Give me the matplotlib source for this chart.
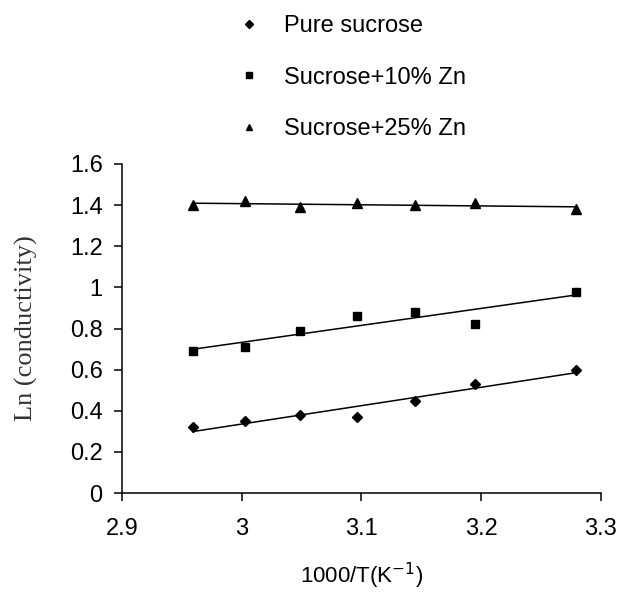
import matplotlib

matplotlib.use("Agg")
import matplotlib.pyplot as plt
import numpy as np
from matplotlib.ticker import FuncFormatter

# 1000/T values (K^-1)
inv_t = [2.959, 3.003, 3.049, 3.096, 3.145, 3.195, 3.279]

# Ln(conductivity) per sample
pure = [0.32, 0.35, 0.38, 0.37, 0.45, 0.53, 0.60]
zn10 = [0.69, 0.71, 0.79, 0.86, 0.88, 0.82, 0.98]
zn25 = [1.40, 1.42, 1.39, 1.41, 1.40, 1.41, 1.38]

labels = ["Pure sucrose", "Sucrose+10% Zn", "Sucrose+25% Zn"]
markers = ["D", "s", "^"]
sizes = [5.5, 6, 6.5]

plt.rcParams["font.family"] = ["Liberation Sans", "DejaVu Sans"]

fig = plt.figure(figsize=(6.2, 5.92), dpi=100)
ax = fig.add_axes([0.197, 0.167, 0.772, 0.556])

x = np.array(inv_t)
for ys, lab, mk, ms in zip([pure, zn10, zn25], labels, markers, sizes):
    ys = np.array(ys)
    ax.plot(x, ys, linestyle="none", marker=mk, ms=ms, color="black", label=lab)
    # linear trendline, like the spreadsheet one
    k, b = np.polyfit(x, ys, 1)
    xx = np.array([x.min(), x.max()])
    ax.plot(xx, k * xx + b, color="black", lw=1.1)

ax.set_xlim(2.9, 3.3)
ax.set_ylim(0, 1.6)
ax.set_xticks([2.9, 3.0, 3.1, 3.2, 3.3])
ax.set_yticks(np.arange(0, 1.61, 0.2))
ax.xaxis.set_major_formatter(FuncFormatter(lambda v, p: f"{v:g}"))
ax.yaxis.set_major_formatter(FuncFormatter(lambda v, p: f"{round(v, 1):g}"))

for s in ("top", "right"):
    ax.spines[s].set_visible(False)
for s in ("left", "bottom"):
    ax.spines[s].set_linewidth(1.1)
ax.tick_params(direction="out", length=6, width=1.1, labelsize=17)
ax.tick_params(axis="y", pad=8)
ax.tick_params(axis="x", pad=12)

ax.set_ylabel("Ln (conductivity)", family="Liberation Serif", fontsize=19, color="#333333")
ax.yaxis.set_label_coords(-0.175, 0.5)
ax.set_xlabel("1000/T(K$^{-1}$)", fontsize=16)
ax.xaxis.set_label_coords(0.5, -0.205)

fig.legend(loc="upper left", bbox_to_anchor=(0.348, 1.01), frameon=False,
           fontsize=17, markerscale=0.7, handlelength=1.0, handletextpad=1.0,
           labelspacing=1.24)

fig.savefig("out.png", dpi=100)
